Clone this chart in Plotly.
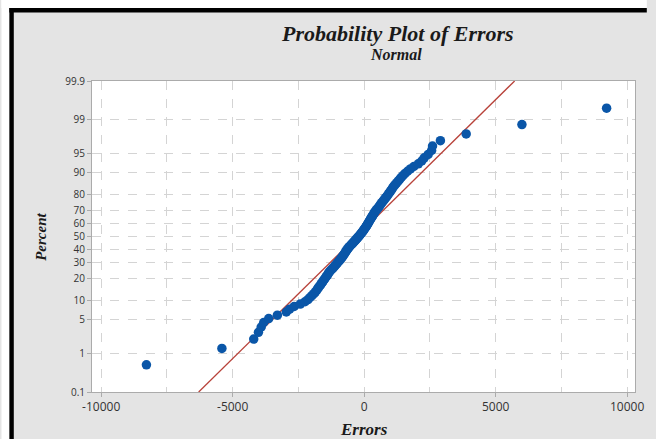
from statistics import NormalDist
import plotly.graph_objects as go

# Residual errors, sorted ascending (n = 130)
errors = [
    -8280, -5410, -4200, -4020, -3915, -3820, -3630, -3300, -2960, -2835,
    -2660, -2430, -2250, -2135, -2060, -1985, -1910, -1855, -1800, -1760,
    -1720, -1665, -1630, -1590, -1555, -1515, -1480, -1440, -1405, -1375,
    -1350, -1310, -1275, -1225, -1180, -1140, -1105, -1065, -1030, -1000,
    -960, -925, -900, -860, -830, -805, -775, -750, -725, -700,
    -675, -645, -620, -590, -560, -525, -495, -460, -425, -390,
    -355, -320, -290, -255, -225, -195, -165, -135, -105, -75,
    -45, -20, 5, 30, 55, 80, 105, 125, 150, 170,
    195, 215, 240, 260, 290, 310, 335, 360, 385, 410,
    440, 475, 510, 545, 575, 605, 640, 675, 710, 750,
    785, 825, 860, 900, 935, 975, 1010, 1050, 1085, 1130,
    1180, 1235, 1290, 1350, 1410, 1480, 1555, 1650, 1760, 1890,
    2060, 2190, 2285, 2435, 2565, 2600, 2900, 3880, 6000, 9220,
]

# Fitted normal reference line
fit_mean = -286
fit_sd = 1944

percent_ticks = [0.1, 1, 5, 10, 20, 30, 40, 50, 60, 70, 80, 90, 95, 99, 99.9]
percent_labels = ["0.1", "1", "5", "10", "20", "30", "40", "50", "60", "70",
                  "80", "90", "95", "99", "99.9"]
x_ticks = [-10000, -5000, 0, 5000, 10000]
x_labels = ["-10000", "-5000", "0", "5000", "10000"]

nd = NormalDist()
n = len(errors)
# median-rank plotting positions (Benard), mapped onto the normal probability scale
ranks_pct = [(i + 1 - 0.3) / (n + 0.4) * 100 for i in range(n)]
y_pts = [nd.inv_cdf(p / 100) for p in ranks_pct]
y_ticks = [nd.inv_cdf(p / 100) for p in percent_ticks]
z_lo, z_hi = y_ticks[0], y_ticks[-1]

fig = go.Figure()
fig.add_trace(go.Scatter(
    x=[fit_mean + fit_sd * z_lo, fit_mean + fit_sd * z_hi], y=[z_lo, z_hi],
    mode="lines", line=dict(color="#b8423a", width=1.3),
    hoverinfo="skip", showlegend=False,
))
fig.add_trace(go.Scatter(
    x=errors, y=y_pts, mode="markers",
    marker=dict(color="#0a56a8", size=9.5, line=dict(width=0)),
    customdata=ranks_pct,
    hovertemplate="Error %{x}<br>Percent %{customdata:.2f}<extra></extra>",
    showlegend=False,
))

W, H = 656, 439
ml, mr, mt, mb = 92, 12, 81, 47
pw, ph = W - ml - mr, H - mt - mb


def px(xp):
    return (xp - ml) / pw


def py(yp):
    return (H - mb - yp) / ph


shapes = [
    # white strip outside the frame
    dict(type="rect", xref="paper", yref="paper", x0=px(0), x1=px(8), y0=py(H), y1=py(0),
         fillcolor="white", line=dict(width=0)),
    dict(type="rect", xref="paper", yref="paper", x0=px(0), x1=px(W), y0=py(8), y1=py(0),
         fillcolor="white", line=dict(width=0)),
    # heavy black frame edges
    dict(type="rect", xref="paper", yref="paper", x0=px(8), x1=px(12.5), y0=py(H), y1=py(8),
         fillcolor="black", line=dict(width=0)),
    dict(type="rect", xref="paper", yref="paper", x0=px(8), x1=px(W), y0=py(12.5), y1=py(8),
         fillcolor="black", line=dict(width=0)),
]

serif = "Liberation Serif, Times New Roman, serif"
ink = "#1a1a1a"


def label(text, xp, yp, size, angle=0):
    return dict(text=f"<b><i>{text}</i></b>", xref="paper", yref="paper",
                x=px(xp), y=py(yp), xanchor="center", yanchor="middle",
                textangle=angle, showarrow=False,
                font=dict(family=serif, size=size, color=ink))


annotations = [
    label("Probability Plot of Errors", 403, 34, 22),
    label("Normal", 401, 55, 16),
    label("Percent", 40, 237, 15, angle=-90),
    label("Errors", 369, 429, 17),
]

sans = "Open Sans, DejaVu Sans, sans-serif"
grid_color = "#d4d4d4"
frame_color = "#ababab"

fig.update_layout(
    width=W, height=H,
    margin=dict(l=ml, r=mr, t=mt, b=mb, pad=0),
    paper_bgcolor="#e4e4e4", plot_bgcolor="white",
    shapes=shapes, annotations=annotations,
    showlegend=False,
    xaxis=dict(
        range=[-10350, 10300], tickvals=x_ticks, ticktext=x_labels,
        showgrid=True, gridcolor=grid_color, griddash="dash", gridwidth=1,
        minor=dict(tickvals=[-7500, -2500, 2500, 7500], showgrid=True,
                   gridcolor=grid_color, griddash="dash", ticklen=0),
        ticks="outside", ticklen=4, tickcolor=frame_color,
        showline=True, linecolor=frame_color, linewidth=1, mirror=True,
        zeroline=False, tickfont=dict(family=sans, size=12, color="#333333"),
    ),
    yaxis=dict(
        range=[z_lo, z_hi], tickvals=y_ticks, ticktext=percent_labels,
        showgrid=True, gridcolor=grid_color, griddash="dash", gridwidth=1,
        ticks="outside", ticklen=4, tickcolor=frame_color,
        showline=True, linecolor=frame_color, linewidth=1, mirror=True,
        zeroline=False, tickfont=dict(family=sans, size=10, color="#333333"),
    ),
)

fig.write_html("out.html")
